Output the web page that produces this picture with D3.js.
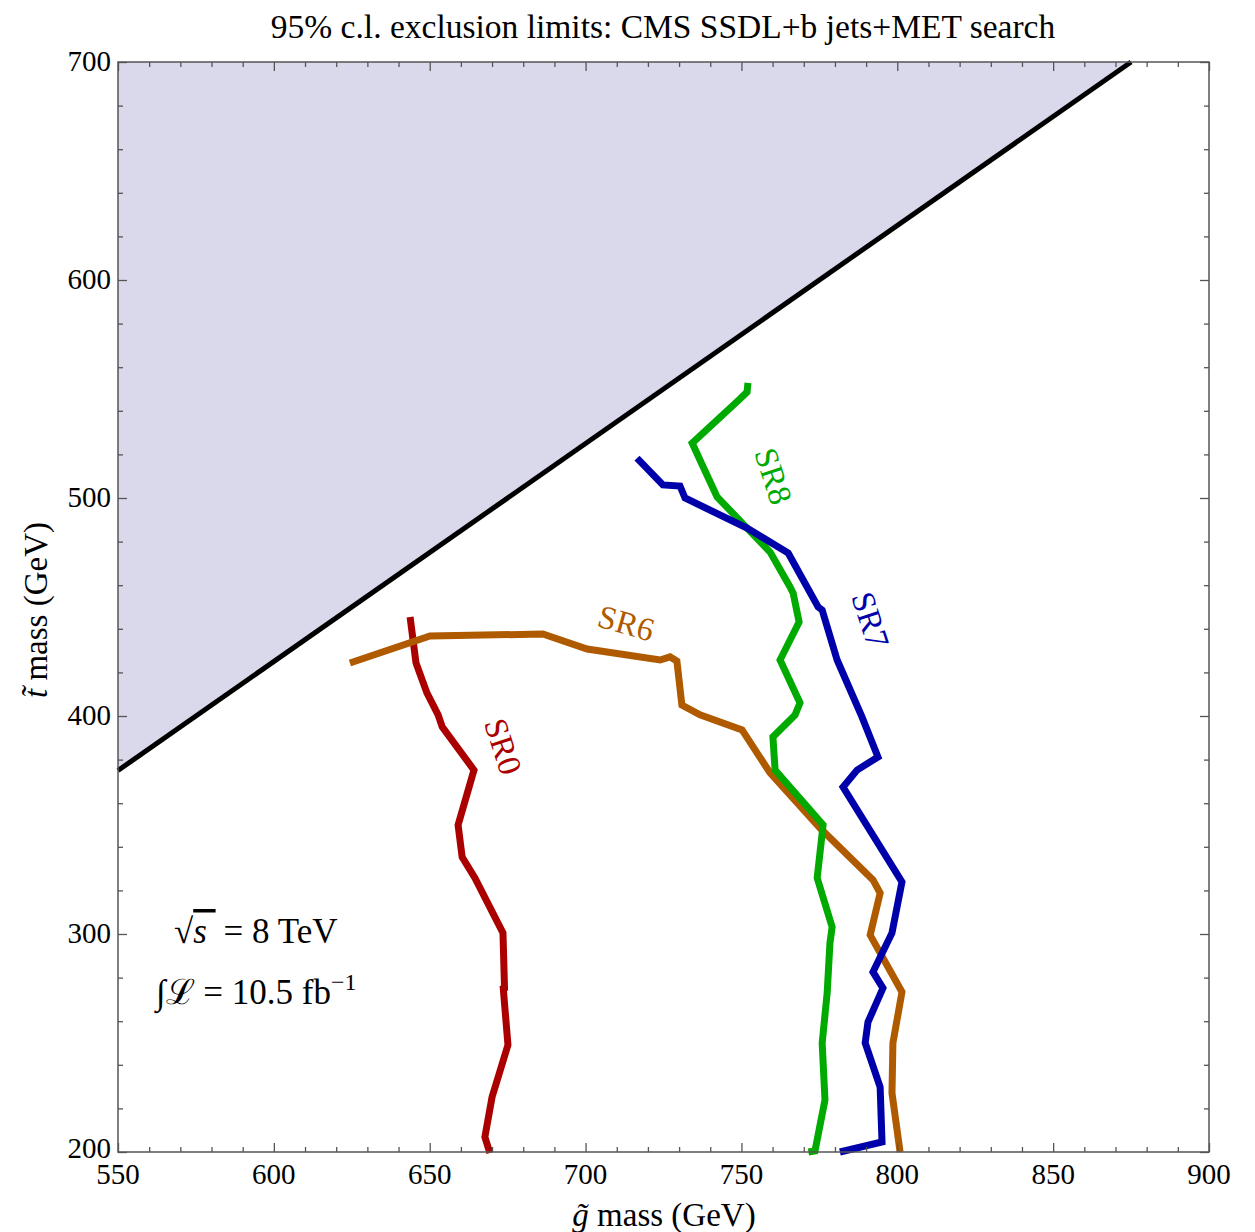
<!DOCTYPE html>
<html><head><meta charset="utf-8">
<script src="https://cdn.jsdelivr.net/npm/d3@7"></script>
<style>body{margin:0;background:#fff}text{font-family:"Liberation Serif","DejaVu Serif",serif}</style>
</head><body>
<svg id="c" width="1255" height="1232"></svg>
<script>
const xDomain=[550,900], yDomain=[200,700];
const xMajor=[550,600,650,700,750,800,850,900];
const yMajor=[200,300,400,500,600,700];
const topMass=175;
const sr0=[[643.7,445.4],[645.6,424.3],[649.1,410.6],[652.7,400.5],[654.0,395.0],[664.2,375.2],[659.1,350.0],[660.4,335.3],[664.5,325.7],[673.5,300.5],[674.0,275.2],[673.6,275.0],[675.1,249.1],[670.0,225.2],[667.7,206.9],[669.3,199.5]];
const sr6=[[624.4,424.3],[650.1,436.7],[686.3,437.6],[700.5,430.7],[723.9,425.7],[727.1,427.1],[729.3,425.2],[730.9,405.0],[736.7,400.5],[750.2,393.6],[759.2,373.9],[775.2,348.6],[792.2,324.8],[794.5,318.8],[791.3,299.5],[801.5,273.4],[798.6,250.0],[798.3,227.1],[800.9,200.0]];
const sr8=[[752.1,552.8],[751.8,548.6],[749.5,545.4],[734.2,525.2],[736.7,517.4],[742.2,500.5],[751.8,486.2],[759.2,475.2],[765.6,459.2],[766.6,456.4],[768.5,443.1],[762.4,425.7],[768.8,406.0],[767.2,400.5],[760.1,390.4],[760.8,375.2],[776.2,350.0],[774.3,325.7],[779.1,303.2],[778.4,295.9],[777.5,272.9],[775.9,250.0],[776.8,223.9],[773.6,200.5],[771.5,200.0]];
const sr7=[[716.5,518.3],[724.8,506.0],[730.3,505.5],[731.9,500.0],[751.8,486.2],[765.0,474.8],[774.6,450.0],[775.9,448.6],[780.7,425.7],[788.7,399.5],[793.8,381.2],[787.1,375.2],[782.6,367.4],[801.5,323.9],[798.3,300.5],[792.2,282.6],[795.4,275.2],[790.6,259.6],[789.7,250.0],[794.5,229.8],[795.1,204.6],[781.6,200.0]];
const series=[
 {name:"SR0",data:sr0,color:"#aa0000",lx:672.5,ly:385.5,rot:72},
 {name:"SR6",data:sr6,color:"#b05a00",lx:712.7,ly:441,rot:16},
 {name:"SR8",data:sr8,color:"#00aa00",lx:759.2,ly:509.5,rot:72},
 {name:"SR7",data:sr7,color:"#0000aa",lx:790.3,ly:443.5,rot:72}
];
const svg=d3.select("#c");
const L=118,R=1209,T=62,B=1152;
const x=d3.scaleLinear().domain(xDomain).range([L,R]);
const y=d3.scaleLinear().domain(yDomain).range([B,T]);
const line=d3.line().x(d=>x(d[0])).y(d=>y(d[1]));
const xEnd=yDomain[1]+topMass;
const region=[[xDomain[0],xDomain[0]-topMass],[xEnd,yDomain[1]],[xDomain[0],yDomain[1]]];
svg.append("path").attr("d",line(region)+"Z").attr("fill","#d9d9eb");
svg.append("path").attr("d",line([[xDomain[0],xDomain[0]-topMass],[xEnd,yDomain[1]]])).attr("stroke","#000").attr("stroke-width",5).attr("fill","none");
const g=svg.append("g");
series.forEach(s=>{
 g.append("path").attr("d",line(s.data)).attr("fill","none").attr("stroke",s.color).attr("stroke-width",7).attr("stroke-linejoin","miter").attr("stroke-miterlimit",3);
 g.append("text").attr("transform",`translate(${x(s.lx)},${y(s.ly)}) rotate(${s.rot})`).attr("text-anchor","middle").attr("dominant-baseline","middle").attr("font-size",33).attr("fill",s.color).text(s.name);
});
const fc="#555";
function ax(axisGen,tr,vals,size){
 const a=svg.append("g").attr("transform",tr).call(axisGen.tickValues(vals).tickSize(size).tickFormat(""));
 a.select(".domain").remove();
 a.selectAll("line").attr("stroke",fc).attr("stroke-width",1.3);
 return a;
}
const xMinor=d3.range(550,901,10).filter(v=>v%50);
const yMinor=d3.range(200,701,20).filter(v=>v%100);
ax(d3.axisTop(x),`translate(0,${B})`,xMinor,5);
ax(d3.axisTop(x),`translate(0,${B})`,xMajor,9);
ax(d3.axisBottom(x),`translate(0,${T})`,xMinor,5);
ax(d3.axisBottom(x),`translate(0,${T})`,xMajor,9);
ax(d3.axisRight(y),`translate(${L},0)`,yMinor,5);
ax(d3.axisRight(y),`translate(${L},0)`,yMajor,9);
ax(d3.axisLeft(y),`translate(${R},0)`,yMinor,5);
ax(d3.axisLeft(y),`translate(${R},0)`,yMajor,9);
svg.append("rect").attr("x",L).attr("y",T).attr("width",R-L).attr("height",B-T).attr("fill","none").attr("stroke",fc).attr("stroke-width",1.5);
svg.append("g").selectAll("text").data(xMajor).join("text").attr("x",d=>x(d)).attr("y",B+32).attr("text-anchor","middle").attr("font-size",29).attr("fill","#000").text(d=>d);
svg.append("g").selectAll("text").data(yMajor).join("text").attr("x",L-7).attr("y",d=>y(d)+(d===200?6:9)).attr("text-anchor","end").attr("font-size",29).attr("fill","#000").text(d=>d);
svg.append("text").attr("x",663).attr("y",38).attr("text-anchor","middle").attr("font-size",33.5).text("95% c.l. exclusion limits: CMS SSDL+b jets+MET search");
const xl=svg.append("text").attr("x",664).attr("y",1226).attr("text-anchor","middle").attr("font-size",33);
xl.append("tspan").attr("font-style","italic").text("g\u0303");
xl.append("tspan").text(" mass (GeV)");
const yl=svg.append("text").attr("transform","translate(47,610) rotate(-90)").attr("text-anchor","middle").attr("font-size",33);
yl.append("tspan").attr("font-style","italic").text("t\u0303");
yl.append("tspan").text(" mass (GeV)");
const a1=svg.append("text").attr("x",174).attr("y",943).attr("font-size",35);
a1.append("tspan").text("\u221A");
a1.append("tspan").attr("font-style","italic").attr("text-decoration","overline").text("s ");
a1.append("tspan").attr("dx",8).text("= 8 TeV");
const a2=svg.append("text").attr("x",156).attr("y",1004).attr("font-size",35);
a2.append("tspan").text("\u222B\u2112 = 10.5 fb");
a2.append("tspan").attr("font-size",24).attr("dy",-14).text("\u22121");
</script></body></html>
